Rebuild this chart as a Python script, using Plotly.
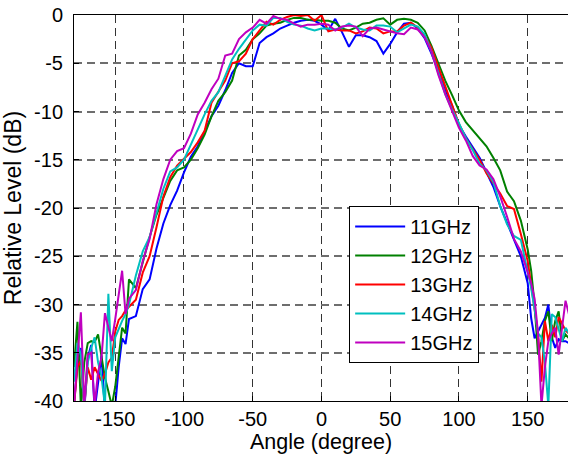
import plotly.graph_objects as go

# Angle grid (degrees)
angles = [-180, -177.5, -175, -172.5, -170, -167.5, -165, -162.5, -160, -157.5, -155, -152.5, -150,
          -147.5, -145, -142.5, -140,
          -135, -130, -125, -120, -115, -110, -105, -100, -95, -90, -85, -80, -75, -70, -65, -60,
          -55, -50, -45, -40, -35, -30, -25, -20, -15, -10, -5, 0, 5, 10, 15, 20, 25, 30, 35, 40,
          45, 50, 55, 60, 65, 70, 75, 80, 85, 90, 95, 100, 105, 110, 115, 120, 125, 130, 135, 140, 145,
          150, 152.5, 155, 157.5, 160, 162.5, 165, 167.5, 170, 172.5, 175, 177.5, 180]

ghz11 = [-40.5, -36, -34.5, -41, -35.5, -34.2, -41, -38, -35.3, -41, -41, -41, -40.5, -36.5, -33.5, -34.1, -31.5,
         -31.2, -28.4, -27.4, -24.2, -21.6, -19.7, -18.2, -16.3, -14.7, -13.6, -12.0, -10.5, -9.4, -7.8, -6.0, -5.0,
         -5.3, -5.3, -2.9, -2.3, -1.9, -1.4, -1.1, -0.8, -0.6, -0.5, -0.6, -1.0, -1.6, -0.4, -1.8, -3.3, -2.1, -2.1, -2.3, -2.7,
         -4.0, -3.0, -1.8, -0.9, -0.8, -1.4, -2.4, -4.0, -5.8, -7.8, -9.4, -11.4, -12.6, -13.7, -14.8, -16.3, -17.8, -19.8, -21.6, -23.2, -25.0,
         -27.8, -31.4, -33.5, -32.8, -32.0, -31.4, -30.0, -33.4, -34.5, -33.6, -33.8, -33.8, -34.0]

ghz12 = [-36.5, -31.8, -40.5, -36.0, -34.0, -33.8, -33.9, -33.1, -35.4, -37.6, -39.0, -40.5, -38.5, -35.5, -32.4, -33.0, -27.4,
         -28.3, -25.5, -23.0, -20.7, -19.0, -17.2, -16.1, -15.8, -15.0, -13.8, -12.4, -10.5, -8.9, -8.0, -6.8, -4.2,
         -3.6, -2.5, -1.9, -1.1, -0.9, -0.8, -0.5, -0.3, -0.3, -0.5, -0.5, -0.6, -0.6, -0.8, -1.4, -1.6, -1.3, -0.9, -0.8, -0.5,
         -0.35, -1.0, -0.5, -0.4, -0.5, -0.8, -1.6, -3.2, -5.0, -6.8, -8.3, -9.9, -11.1, -11.9, -12.7, -13.6, -14.8, -16.1, -18.3, -19.3, -21.3,
         -24.3, -26.5, -30.0, -35.2, -33.8, -31.7, -30.7, -33.8, -31.7, -30.7, -33.8, -33.1, -33.5]

ghz13 = [-40.5, -36.5, -35.8, -40.5, -36.5, -37.8, -36.5, -37.2, -37.9, -37.2, -36.0, -35.5, -32.8, -31.6, -31.2, -30.6, -30.2,
         -29.5, -26.7, -25.0, -22.0, -18.8, -16.8, -15.6, -14.9, -14.2, -13.2, -12.0, -9.1, -8.0, -6.8, -5.0, -4.8,
         -4.0, -2.5, -1.6, -0.7, -1.0, -0.5, -0.2, 0.0, -0.1, 0.0, -0.6, 0.0, -1.7, -1.5, -1.6, -1.6, -1.9, -1.7, -1.3, -1.4,
         -1.9, -1.7, -1.7, -1.1, -0.8, -1.3, -2.1, -3.4, -5.4, -7.3, -9.2, -11.3, -12.8, -13.9, -15.0, -16.4, -17.5, -18.5, -19.8, -20.1, -22.7,
         -25.5, -28.0, -30.5, -33.0, -38.0, -31.7, -33.8, -32.1, -33.4, -31.3, -32.0, -32.7, -33.0]

ghz14 = [-38.0, -34.0, -35.2, -40.5, -36.0, -34.5, -33.4, -36.0, -37.5, -40.5, -28.9, -36.9, -33.4, -32.5, -31.7, -31.0, -30.0,
         -27.0, -24.5, -23.0, -20.5, -18.0, -16.2, -15.8, -15.0, -13.4, -11.9, -10.3, -8.9, -8.0, -6.3, -4.6, -3.5,
         -2.5, -1.6, -1.0, -1.1, -0.3, -0.3, -0.7, -1.0, -1.1, -1.4, -1.6, -1.4, -1.4, -1.5, -1.3, -0.9, -1.3, -1.5, -1.6, -1.1,
         -1.1, -1.2, -1.8, -1.4, -1.0, -1.2, -2.0, -3.8, -6.0, -8.2, -9.8, -11.2, -12.8, -14.0, -15.4, -16.1, -17.3, -19.8, -21.7, -22.9, -23.3,
         -26.8, -28.3, -30.5, -33.0, -33.4, -36.0, -40.5, -31.0, -31.3, -32.5, -33.8, -32.4, -33.0]

ghz15 = [-40.5, -36.0, -30.8, -40.5, -35.2, -35.0, -40.5, -37.0, -35.5, -30.9, -32.5, -33.8, -31.5, -29.0, -26.5, -31.0, -29.4,
         -28.5, -25.5, -23.2, -19.6, -17.0, -15.0, -14.1, -13.8, -12.3, -10.3, -9.1, -7.7, -6.6, -4.2, -4.0, -2.5,
         -1.8, -1.3, -0.5, -0.9, -0.1, -0.4, -0.5, -0.9, -1.2, -1.0, -1.0, -0.9, -1.0, -1.6, -1.2, -1.1, -1.2, -2.2, -1.4, -1.3,
         -1.5, -1.7, -1.9, -2.0, -1.3, -1.5, -2.3, -3.8, -6.2, -8.2, -9.9, -11.7, -13.0, -14.6, -15.6, -16.0, -17.0, -18.8, -20.9, -23.2, -24.5,
         -26.6, -27.8, -29.4, -33.0, -40.5, -36.5, -33.8, -33.0, -32.4, -35.2, -32.4, -29.6, -31.0]

names = ["11GHz", "12GHz", "13GHz", "14GHz", "15GHz"]
colors = ["#0000FF", "#008000", "#FF0000", "#00BFBF", "#BF00BF"]
series = [ghz11, ghz12, ghz13, ghz14, ghz15]

x_ticks = [-150, -100, -50, 0, 50, 100, 150]
y_ticks = [-40, -35, -30, -25, -20, -15, -10, -5, 0]

FONT = "Liberation Sans, Arial, sans-serif"

fig = go.Figure()
for name, col, vals in zip(names, colors, series):
    fig.add_trace(go.Scatter(x=angles, y=vals, mode="lines", name=name,
                             line=dict(color=col, width=2)))

fig.update_layout(
    width=568, height=454,
    margin=dict(l=74, r=0, t=15, b=53),
    paper_bgcolor="white", plot_bgcolor="white",
    font=dict(family=FONT, size=20, color="black"),
    showlegend=True,
    legend=dict(x=0.557, y=0.505, xanchor="left", yanchor="top",
                bgcolor="white", bordercolor="black", borderwidth=1,
                font=dict(family=FONT, size=20, color="black"), tracegroupgap=0, itemwidth=50),
    xaxis=dict(range=[-180, 179.3], tickvals=x_ticks, ticktext=[str(v) for v in x_ticks],
               showgrid=True, gridcolor="#333333", gridwidth=1, griddash="8px,5px",
               zeroline=False, showline=True, linecolor="black", linewidth=1, mirror=True,
               ticks="inside", ticklen=5, tickcolor="black",
               title=dict(text="Angle (degree)", standoff=4,
                          font=dict(family=FONT, size=21.5, color="black"))),
    yaxis=dict(range=[-40, 0], tickvals=y_ticks, ticktext=[str(v) for v in y_ticks],
               showgrid=True, gridcolor="#6e6e6e", gridwidth=1.5, griddash="8px,5px",
               zeroline=False, showline=True, linecolor="black", linewidth=1, mirror=False,
               ticks="inside", ticklen=5, tickcolor="black", ticklabelstandoff=6,
               title=dict(text="Relative Level (dB)", standoff=6,
                          font=dict(family=FONT, size=23, color="black"))),
)

fig.write_html("out.html")
